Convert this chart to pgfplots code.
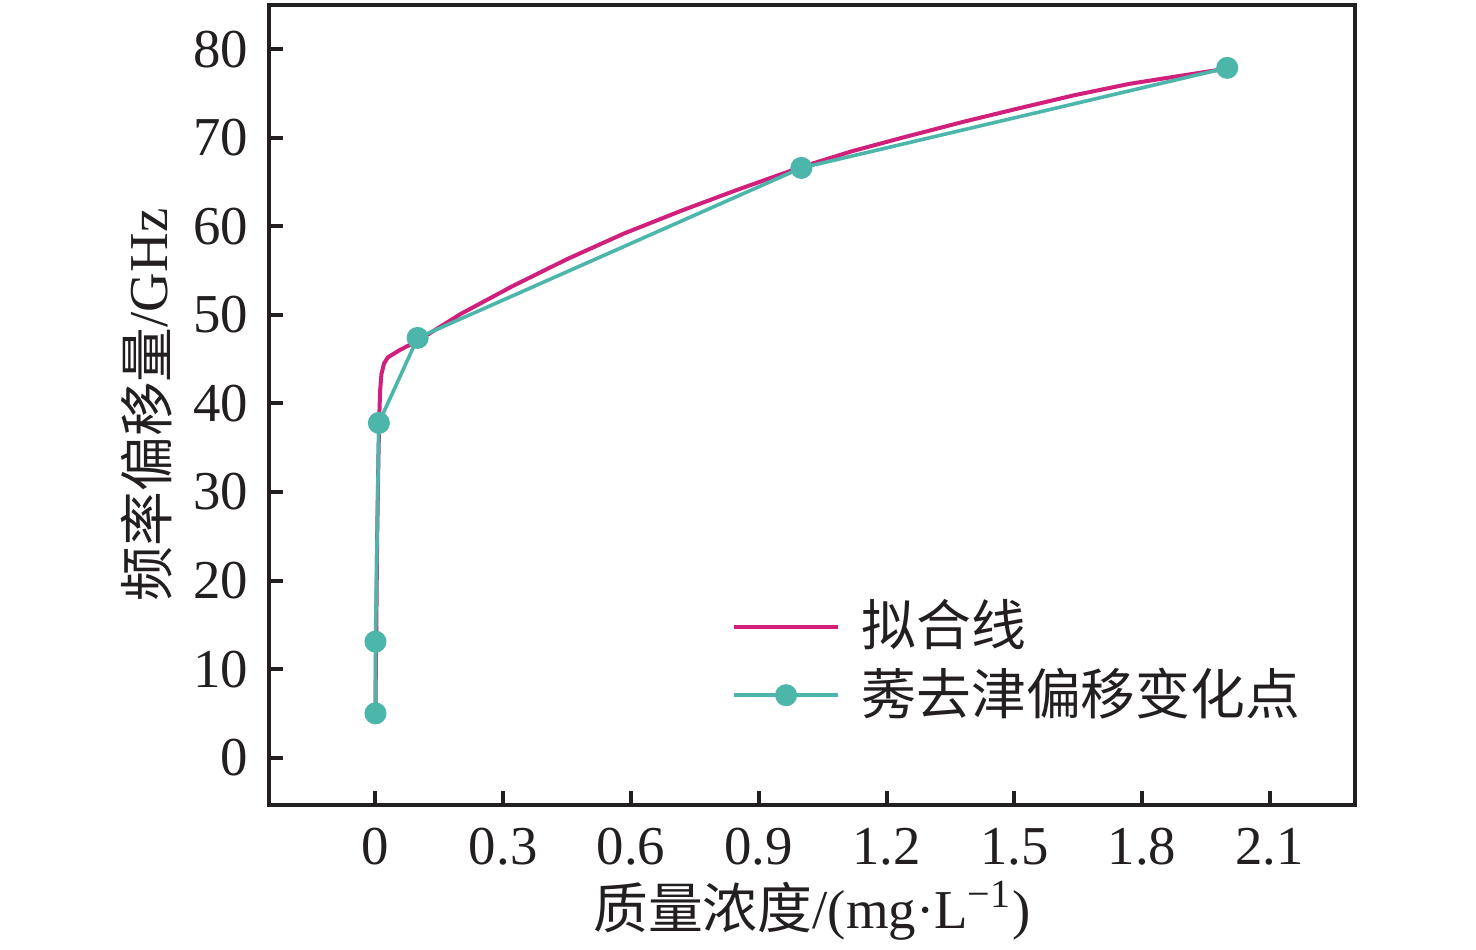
\documentclass[border=0pt]{standalone}
\usepackage{fontspec}
\setmainfont{Liberation Serif}
\newfontfamily\cjk{Noto Sans CJK SC}
\usepackage{pgfplots}
\pgfplotsset{compat=1.18}
\definecolor{fitpink}{HTML}{D0207C}
\definecolor{ptcyan}{HTML}{4DB6AA}
\definecolor{axdark}{HTML}{231F20}
\begin{document}
\fontsize{13.7}{16}\selectfont
\begin{tikzpicture}
\useasboundingbox (-67.25pt,-36.25pt) rectangle (301.75pt,201.25pt);
\begin{axis}[
  at={(0,0)}, anchor=south west,
  scale only axis, width=271.5pt, height=200pt,
  xmin=-0.25, xmax=2.3, ymin=-5.35, ymax=85,
  xtick={0,0.3,0.6,0.9,1.2,1.5,1.8,2.1},
  xticklabels={0,0.3,0.6,0.9,1.2,1.5,1.8,2.1},
  ytick={0,10,20,30,40,50,60,70,80},
  tick align=inside, xtick pos=bottom, ytick pos=left,
  major tick length=3.5pt,
  axis line style={axdark, line width=1pt},
  every tick/.style={axdark, line width=1pt},
  /pgf/number format/assume math mode=true,
  ticklabel style={font=\fontsize{13.7}{16}\selectfont, text=axdark},
  xticklabel style={yshift=-1pt},
  yticklabel style={xshift=-0.5pt},
  xlabel={{\cjk 质量浓度}/(mg·L\textsuperscript{\fontsize{10}{12}\selectfont −1})},
  ylabel={{\cjk 频率偏移量}/GHz},
  label style={font=\fontsize{13.7}{16}\selectfont, text=axdark},
  xlabel style={at={(0.5,0)}, anchor=center, yshift=-26.5pt},
  ylabel style={at={(0,0.5)}, anchor=center, yshift=30.5pt},
  legend style={draw=none, fill=none, at={(0.415,0.18)}, anchor=west,
    font=\fontsize{13.7}{16}\selectfont, row sep=1.5pt,
    nodes={inner sep=1pt, text=axdark}},
  legend cell align=left,
  legend image code/.code={\draw[mark repeat=2,mark phase=2,#1] plot coordinates {(0pt,0pt) (12.9pt,0pt) (25.8pt,0pt)};},
  clip=false,
]
\addplot[fitpink, line width=1pt, line join=round] coordinates {
 (0.000,5.8) (0.002,15) (0.004,25) (0.007,34) (0.009,38.6) (0.011,41.5)
 (0.014,43.3) (0.020,44.5) (0.029,45.2) (0.056,46.0) (0.100,47.1)
 (0.150,48.6) (0.200,50.1) (0.320,53.2) (0.450,56.3) (0.584,59.2) (0.720,61.8)
 (0.848,64.1) (1.000,66.7) (1.120,68.5) (1.244,70.1) (1.380,71.8)
 (1.508,73.3) (1.640,74.8) (1.771,76.1) (1.890,77.0) (1.997,77.8)
};
\addlegendentry{\hspace{4.5pt}\cjk 拟合线}
\addplot[ptcyan, line width=0.9pt, mark=*, mark size=2.3pt, mark options={fill=ptcyan, draw=ptcyan}] coordinates {
 (0,5) (0,13.1) (0.008,37.8) (0.099,47.4) (1.0,66.6) (2.0,77.9)
};
\addlegendentry{\hspace{4.5pt}\cjk 莠去津偏移变化点}
\end{axis}
\end{tikzpicture}
\end{document}
